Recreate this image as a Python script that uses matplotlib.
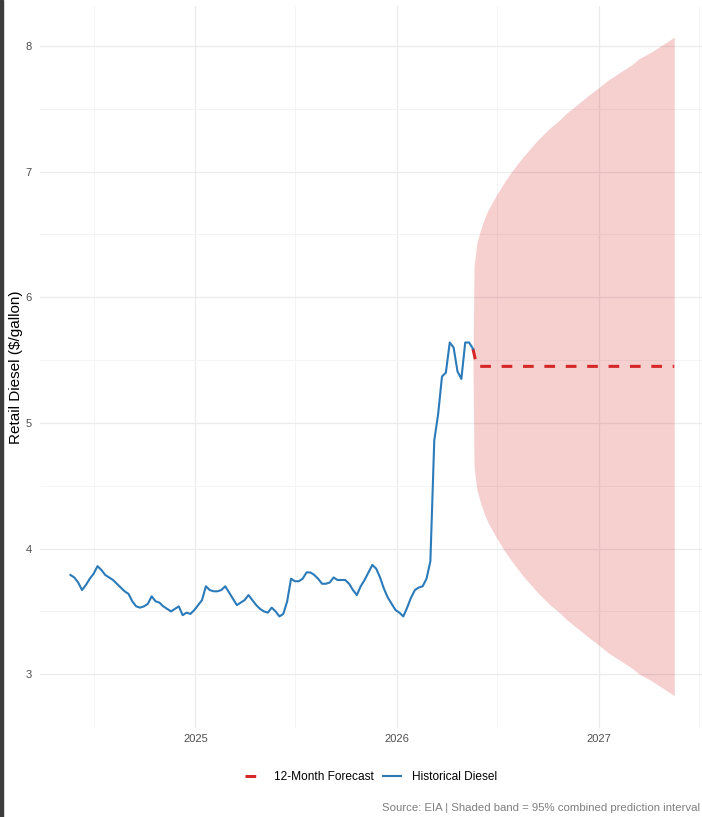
import pandas as pd
import matplotlib.pyplot as plt
import matplotlib.dates as mdates
from matplotlib.patches import Rectangle

plt.rcParams['font.family'] = ['Liberation Sans', 'DejaVu Sans']

# weekly retail diesel, $/gallon
hist_start = '2024-05-20'
hist_values = [
    3.79, 3.77, 3.73, 3.67, 3.71, 3.76, 3.80, 3.86, 3.83, 3.79,
    3.77, 3.75, 3.72, 3.69, 3.66, 3.64, 3.58, 3.54, 3.53, 3.54,
    3.56, 3.62, 3.58, 3.57, 3.54, 3.52, 3.50, 3.52, 3.54, 3.47,
    3.49, 3.48, 3.51, 3.55, 3.59, 3.70, 3.67, 3.66, 3.66, 3.67,
    3.70, 3.65, 3.60, 3.55, 3.57, 3.59, 3.63, 3.59, 3.55, 3.52,
    3.50, 3.49, 3.53, 3.50, 3.46, 3.48, 3.58, 3.76, 3.74, 3.74,
    3.76, 3.81, 3.81, 3.79, 3.76, 3.72, 3.72, 3.73, 3.77, 3.75,
    3.75, 3.75, 3.72, 3.67, 3.63, 3.70, 3.75, 3.81, 3.87, 3.84,
    3.77, 3.68, 3.61, 3.56, 3.51, 3.49, 3.46, 3.53, 3.61, 3.67,
    3.69, 3.70, 3.76, 3.90, 4.86, 5.07, 5.37, 5.40, 5.64, 5.60,
    5.41, 5.35, 5.64, 5.64, 5.59,
]

# forecast (days after last observation)
fc_days = [0, 7, 364]
fc_values = [5.59, 5.45, 5.45]

# 95% band
band_days = [0, 2, 7, 14, 21, 28, 42, 56, 70, 91, 105, 119, 140, 154, 168,
             182, 196, 210, 231, 245, 259, 273, 287, 301, 322, 336, 350, 364]
band_upper = [5.45, 6.25, 6.43, 6.54, 6.63, 6.70, 6.81, 6.91, 7.00, 7.12,
              7.19, 7.26, 7.35, 7.40, 7.46, 7.51, 7.56, 7.61, 7.68, 7.73,
              7.77, 7.81, 7.85, 7.90, 7.95, 7.99, 8.03, 8.07]
band_lower = [5.45, 4.65, 4.47, 4.36, 4.27, 4.20, 4.09, 3.99, 3.90, 3.78,
              3.71, 3.64, 3.55, 3.50, 3.44, 3.39, 3.34, 3.29, 3.22, 3.17,
              3.13, 3.09, 3.05, 3.00, 2.95, 2.91, 2.87, 2.83]

red = '#d62728'
blue = '#2b7bba'

hist_dates = pd.date_range(hist_start, periods=len(hist_values), freq='7D')
last = hist_dates[-1]
fc_dates = [last + pd.Timedelta(days=d) for d in fc_days]
band_dates = [last + pd.Timedelta(days=d) for d in band_days]

fig = plt.figure(figsize=(7.02, 8.17), dpi=100)
ax = fig.add_axes([40 / 702, 89 / 817, 663 / 702, 722 / 817])

ax.fill_between(band_dates, band_lower, band_upper, color=red, alpha=0.22,
                linewidth=0, zorder=2)
ax.plot(fc_dates, fc_values, color=red, lw=2.2, dashes=(3.5, 3.5),
        label='12-Month Forecast', zorder=3)
ax.plot(hist_dates, hist_values, color=blue, lw=1.5,
        label='Historical Diesel', zorder=3)

ax.set_xlim(pd.Timestamp('2024-03-26'), pd.Timestamp('2027-07-08'))
ax.set_ylim(2.572, 8.318)
ax.set_yticks([3, 4, 5, 6, 7, 8])
ax.set_yticks([3.5, 4.5, 5.5, 6.5, 7.5], minor=True)
ax.xaxis.set_major_locator(mdates.YearLocator())
ax.xaxis.set_major_formatter(mdates.DateFormatter('%Y'))
ax.xaxis.set_minor_locator(mdates.MonthLocator(bymonth=7))

ax.grid(True, which='major', color='#ebebeb', lw=0.9)
ax.grid(True, which='minor', color='#f3f3f3', lw=0.6)
ax.set_axisbelow(True)
for s in ax.spines.values():
    s.set_visible(False)
ax.tick_params(which='both', length=0, labelsize=8, colors='#4d4d4d')
ax.tick_params(axis='y', pad=6)
ax.tick_params(axis='x', pad=4)

ax.set_ylabel('Retail Diesel ($/gallon)', fontsize=11, color='black')
ax.yaxis.set_label_coords(-17 / 663, 0.5)

h, l = ax.get_legend_handles_labels()
fig.legend(h, l, loc='center', bbox_to_anchor=(371 / 702, 1 - 777 / 817),
           ncol=2, frameon=False, fontsize=8.6, handlelength=1.5,
           columnspacing=0.8, handletextpad=0.9)

fig.text(700 / 702, 1 - 808 / 817,
         'Source: EIA | Shaded band = 95% combined prediction interval',
         fontsize=8.2, color='#7f7f7f', ha='right', va='center')

fig.patches.append(Rectangle((0, 0), 3 / 702, 1, transform=fig.transFigure,
                             color='#3c3c3c', zorder=10))

plt.savefig('out.png', dpi=100)
